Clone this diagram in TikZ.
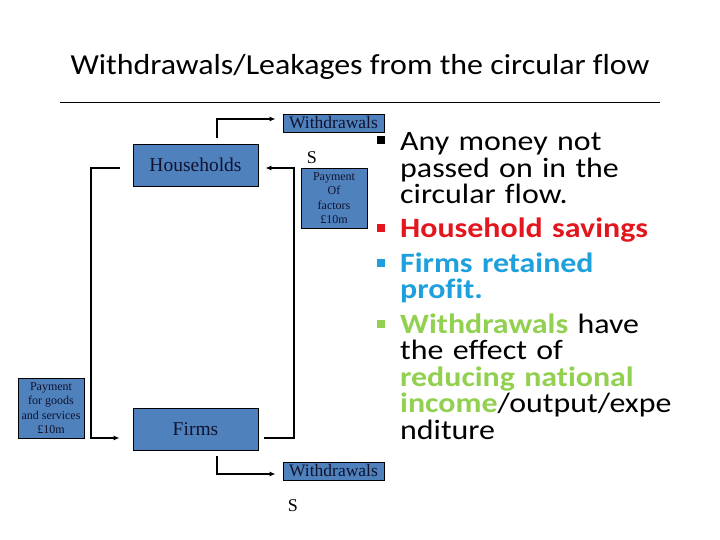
\documentclass[tikz,border=0pt]{standalone}
\usepackage{fontspec}
\setmainfont{Liberation Serif}
\newfontfamily\slidefont[FakeStretch=1.1,Ligatures=NoCommon]{Carlito}
\newfontfamily\listfont[FakeStretch=1.14,Ligatures=NoCommon]{Carlito}
\usetikzlibrary{arrows.meta}

\definecolor{boxblue}{HTML}{4F81BD}
\definecolor{boxtext}{HTML}{10122E}
\definecolor{saveRed}{HTML}{E3161E}
\definecolor{profitBlue}{HTML}{1EA0DC}
\definecolor{leakGreen}{HTML}{92D050}

\begin{document}
\begin{tikzpicture}[x=1pt,y=-1pt]
  \tikzset{
    flowbox/.style={draw=black,fill=boxblue,line width=0.8pt,inner sep=0pt,text=boxtext},
    flow/.style={line width=1.3pt,-{Latex[length=6pt,width=5pt]}},
    bullet/.style={fill=#1,minimum size=8pt,inner sep=0pt},
    item/.style={anchor=base west,inner sep=0pt,align=left,text width=315pt,
      font=\listfont\fontsize{28}{26.5}\selectfont}
  }
  \useasboundingbox (0,0) rectangle (720,540);

  % title
  \node[font=\slidefont\fontsize{29}{30}\selectfont] (title) at (360,67) {Withdrawals/Leakages from the circular flow};
  \draw[line width=0.8pt] (60,102) -- (660,102);

  % circular flow
  \node[flowbox,minimum width=125pt,minimum height=42pt,font=\fontsize{19.5}{20}\selectfont] (hh) at (195.5,165) {Households};
  \node[flowbox,minimum width=125pt,minimum height=42pt,font=\fontsize{19.5}{20}\selectfont] (firms) at (195.5,429) {Firms};
  \node[flowbox,minimum width=101pt,minimum height=18pt,font=\fontsize{17.5}{18}\selectfont] (wtop) at (333.5,123) {Withdrawals};
  \node[flowbox,minimum width=101pt,minimum height=18pt,font=\fontsize{17.5}{18}\selectfont] (wbot) at (333.5,471) {Withdrawals};
  \node[flowbox,minimum width=66pt,minimum height=60pt,align=center,font=\fontsize{12}{14.5}\selectfont] (pof) at (334,198) {Payment\\Of\\factors\\£10m};
  \node[flowbox,minimum width=66pt,minimum height=60pt,align=center,font=\fontsize{12}{14.5}\selectfont] (pgs) at (51,408) {Payment\\for goods\\and services\\£10m};
  \node[font=\fontsize{18}{18}\selectfont] (stop) at (312,158) {S};
  \node[font=\fontsize{18}{18}\selectfont] (sbot) at (293,506) {S};

  \coordinate (rtop) at (294,168);
  \coordinate (rbot) at (294,438);
  \coordinate (ltop) at (91,168);
  \coordinate (lbot) at (91,438);

  \draw[flow] ([xshift=21.5pt,yshift=6pt]hh.north) |- ([xshift=-7pt,yshift=4pt]wtop.west);
  \draw[flow] ([xshift=21.5pt,yshift=-6pt]firms.south) |- ([xshift=-7pt,yshift=-3pt]wbot.west);
  \draw[flow] ([xshift=6pt,yshift=-9pt]firms.east) -- (rbot) -- (rtop) -- ([xshift=7pt,yshift=-3pt]hh.east);
  \draw[flow] ([xshift=-13pt,yshift=-3pt]hh.west) -- (ltop) -- (lbot) -- ([xshift=-13pt,yshift=-9pt]firms.west);

  % bullet list
  \node[bullet=black] (b1) at (381,140) {};
  \node[bullet=saveRed] (b2) at (381,228) {};
  \node[bullet=profitBlue] (b3) at (381,263) {};
  \node[bullet=leakGreen] (b4) at (381,324) {};
  \node[item] (i1) at (400,151) {Any money not\\passed on in the\\circular flow.};
  \node[item,text=saveRed] (i2) at (400,237) {\bfseries Household savings};
  \node[item,text=profitBlue] (i3) at (400,272) {\bfseries Firms retained\\profit.};
  \node[item] (i4) at (400,333) {\textcolor{leakGreen}{\bfseries Withdrawals} have\\the effect of\\\textcolor{leakGreen}{\bfseries reducing national}\\\textcolor{leakGreen}{\bfseries income}/output/expe\\nditure};
\end{tikzpicture}
\end{document}
